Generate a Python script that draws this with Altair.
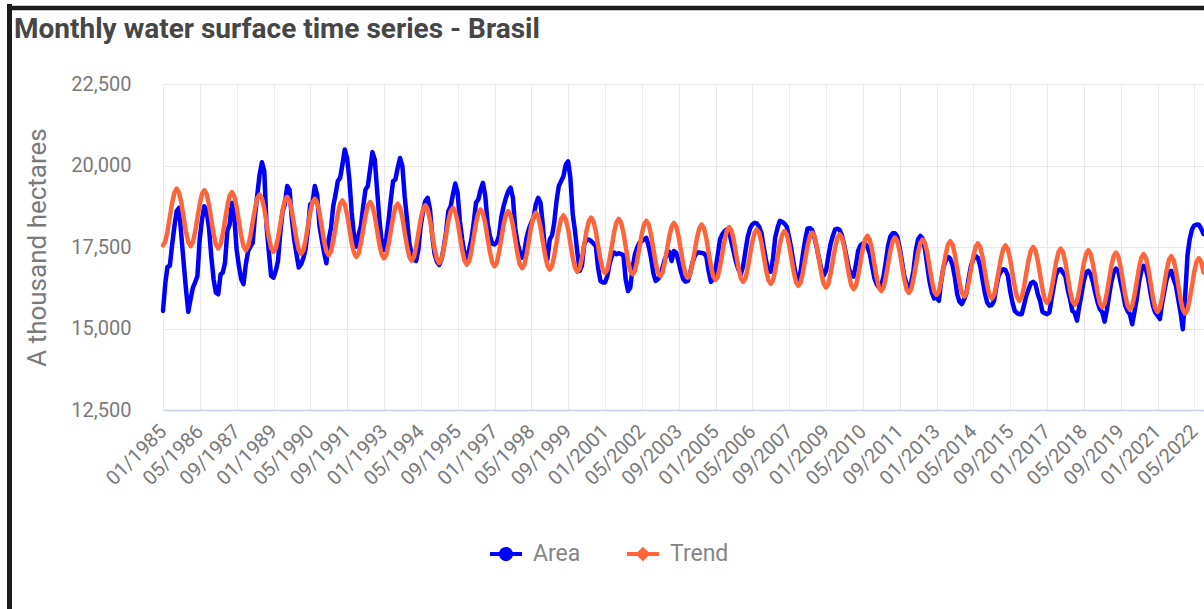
import altair as alt
import pandas as pd

TITLE = "Monthly water surface time series - Brasil"
Y_TITLE = "A thousand hectares"
SERIES = ["Area", "Trend"]
COLORS = ["#0000ff", "#ff653a"]

# Monthly water surface (thousand ha), Jan 1985 onwards, one row per year
AREA = [
    15540, 16400, 16890, 16920, 17550, 18140, 18600, 18700, 17840, 17020, 16200, 15510,
    15900, 16260, 16410, 16610, 17730, 18350, 18750, 18600, 18090, 17220, 16510, 16100,
    16050, 16660, 16710, 17020, 17990, 18190, 18860, 18450, 17430, 16920, 16510, 16360,
    16970, 17380, 17510, 17630, 18450, 19110, 19720, 20100, 19830, 18140, 17330, 16610,
    16560, 16770, 17070, 17940, 18600, 18810, 19370, 19260, 18350, 17730, 17280, 16870,
    16970, 17170, 17430, 18040, 18810, 18860, 19370, 19110, 18140, 17730, 17330, 17000,
    17730, 18090, 18750, 19110, 19520, 19620, 20030, 20490, 20230, 19570, 18550, 17840,
    17510, 17890, 18140, 18750, 19260, 19370, 19880, 20410, 20180, 19260, 18350, 17630,
    17410, 17790, 18300, 18960, 19520, 19570, 19930, 20230, 19980, 19060, 18350, 17630,
    17280, 17100, 17070, 17430, 18150, 18600, 18910, 19010, 18650, 17840, 17280, 17050,
    16950, 17120, 17480, 17940, 18600, 18750, 19110, 19450, 19160, 18300, 17730, 17280,
    17120, 17430, 17730, 18240, 18860, 18960, 19260, 19470, 19060, 18240, 17840, 17610,
    17580, 17650, 17840, 18420, 18750, 19010, 19210, 19320, 19010, 18090, 17630, 17350,
    17170, 17380, 17790, 18060, 18240, 18400, 18810, 19010, 18860, 18190, 17330, 17120,
    17730, 17860, 18240, 18910, 19370, 19520, 19670, 20030, 20130, 19620, 18500, 17990,
    17330, 16770, 16920, 17580, 17710, 17730, 17680, 17610, 17530, 16870, 16460, 16410,
    16410, 16610, 16970, 17220, 17330, 17280, 17310, 17280, 17250, 16510, 16150, 16260,
    16870, 17280, 17480, 17630, 17680, 17730, 17780, 17530, 17170, 16710, 16460, 16510,
    16610, 16870, 17120, 17280, 17350, 17070, 17380, 17320, 17050, 16750, 16510, 16440,
    16460, 16710, 17020, 17220, 17330, 17330, 17320, 17300, 17220, 16760, 16430, 16510,
    16820, 17280, 17730, 17890, 17990, 18040, 17960, 17630, 17330, 17020, 16800, 16660,
    16920, 17380, 17790, 18060, 18190, 18240, 18220, 18120, 17920, 17480, 17070, 16770,
    16740, 17170, 17790, 18090, 18300, 18270, 18220, 18120, 17790, 17430, 16970, 16610,
    16430, 16770, 17280, 17730, 18060, 18080, 18020, 17790, 17480, 17120, 16820, 16630,
    16770, 17220, 17580, 17840, 18040, 18060, 18020, 17840, 17530, 17170, 16820, 16660,
    16590, 16970, 17380, 17550, 17610, 17600, 17510, 17310, 16920, 16560, 16360, 16260,
    16310, 16610, 17020, 17530, 17820, 17920, 17920, 17820, 17480, 17070, 16610, 16390,
    16230, 16410, 16770, 17380, 17730, 17840, 17760, 17430, 16920, 16430, 16100, 15920,
    15950, 15850, 16410, 16870, 17070, 17200, 17140, 16940, 16560, 16050, 15820, 15750,
    15900, 16100, 16530, 16920, 17120, 17220, 17170, 16920, 16510, 16100, 15800, 15700,
    15720, 15850, 16260, 16610, 16740, 16820, 16800, 16630, 16150, 15800, 15540, 15470,
    15440, 15440, 15700, 16000, 16200, 16390, 16430, 16360, 16050, 15850, 15510, 15470,
    15440, 15490, 15900, 16310, 16660, 16800, 16820, 16710, 16590, 16200, 15900, 15540,
    15480, 15240, 15650, 16050, 16450, 16720, 16770, 16660, 16410, 16080, 15800, 15590,
    15500, 15210, 15550, 16000, 16430, 16720, 16840, 16770, 16410, 16100, 15700, 15540,
    15440, 15130, 15500, 15900, 16410, 16770, 16920, 16800, 16510, 16080, 15700, 15490,
    15390, 15290, 15750, 16150, 16510, 16710, 16770, 16510, 16310, 15900, 15490, 14980,
    16000, 17250, 17730, 18040, 18160, 18190, 18180, 18060, 17900,
]

# Seasonal trend component (thousand ha), same months
TREND = [
    17550, 17670, 17980, 18420, 18850, 19170, 19290, 19170, 18850, 18410, 17970, 17650,
    17530, 17650, 17960, 18390, 18810, 19130, 19240, 19120, 18800, 18350, 17910, 17580,
    17460, 17580, 17890, 18320, 18750, 19070, 19180, 19060, 18740, 18290, 17850, 17520,
    17400, 17520, 17830, 18260, 18680, 19000, 19110, 18990, 18670, 18230, 17790, 17470,
    17350, 17460, 17770, 18200, 18620, 18930, 19040, 18920, 18600, 18170, 17730, 17410,
    17290, 17400, 17710, 18140, 18560, 18870, 18980, 18860, 18550, 18120, 17680, 17370,
    17250, 17360, 17670, 18090, 18510, 18820, 18930, 18810, 18500, 18070, 17630, 17320,
    17200, 17310, 17620, 18040, 18460, 18770, 18880, 18760, 18450, 18020, 17580, 17270,
    17150, 17260, 17570, 17990, 18410, 18720, 18830, 18710, 18390, 17960, 17520, 17200,
    17080, 17190, 17500, 17930, 18350, 18660, 18780, 18660, 18330, 17890, 17450, 17130,
    17010, 17120, 17430, 17860, 18280, 18590, 18700, 18580, 18270, 17830, 17400, 17080,
    16960, 17070, 17380, 17810, 18230, 18540, 18650, 18530, 18220, 17780, 17350, 17030,
    16910, 17020, 17330, 17760, 18180, 18490, 18600, 18480, 18160, 17730, 17290, 16970,
    16850, 16960, 17280, 17700, 18130, 18440, 18550, 18430, 18120, 17680, 17250, 16930,
    16810, 16920, 17230, 17640, 18060, 18360, 18470, 18350, 18040, 17610, 17170, 16860,
    16740, 16850, 17160, 17570, 17990, 18290, 18400, 18290, 17980, 17550, 17130, 16810,
    16700, 16810, 17120, 17530, 17950, 18250, 18360, 18250, 17940, 17510, 17090, 16770,
    16660, 16770, 17070, 17480, 17890, 18190, 18300, 18190, 17880, 17460, 17030, 16720,
    16610, 16720, 17020, 17430, 17830, 18130, 18240, 18130, 17820, 17400, 16980, 16670,
    16560, 16670, 16970, 17380, 17780, 18080, 18190, 18080, 17770, 17340, 16920, 16600,
    16490, 16600, 16900, 17300, 17710, 18000, 18110, 18000, 17690, 17270, 16850, 16540,
    16430, 16540, 16830, 17240, 17640, 17930, 18040, 17930, 17620, 17210, 16790, 16480,
    16370, 16480, 16780, 17180, 17590, 17880, 17990, 17880, 17570, 17150, 16730, 16420,
    16310, 16420, 16720, 17130, 17530, 17830, 17940, 17830, 17520, 17100, 16680, 16370,
    16260, 16370, 16670, 17080, 17480, 17780, 17890, 17780, 17470, 17050, 16630, 16320,
    16210, 16320, 16620, 17030, 17430, 17730, 17840, 17730, 17420, 17000, 16570, 16260,
    16150, 16260, 16560, 16970, 17380, 17680, 17790, 17680, 17370, 16940, 16520, 16200,
    16090, 16200, 16500, 16910, 17320, 17620, 17730, 17620, 17310, 16880, 16460, 16140,
    16030, 16140, 16440, 16860, 17270, 17570, 17680, 17570, 17260, 16830, 16410, 16090,
    15980, 16090, 16390, 16800, 17200, 17500, 17610, 17500, 17190, 16770, 16340, 16030,
    15920, 16030, 16330, 16740, 17140, 17440, 17550, 17440, 17130, 16700, 16280, 15960,
    15850, 15960, 16260, 16680, 17090, 17390, 17500, 17390, 17070, 16650, 16220, 15900,
    15790, 15900, 16210, 16620, 17040, 17340, 17450, 17340, 17020, 16590, 16160, 15850,
    15730, 15840, 16150, 16570, 16980, 17290, 17400, 17280, 16960, 16530, 16090, 15770,
    15650, 15760, 16070, 16490, 16910, 17220, 17330, 17210, 16890, 16460, 16020, 15700,
    15580, 15690, 16010, 16430, 16860, 17170, 17280, 17160, 16840, 16400, 15950, 15630,
    15510, 15630, 15940, 16370, 16790, 17110, 17220, 17100, 16780, 16340, 15900, 15580,
    15460, 15570, 15890, 16310, 16740, 17050, 17160, 17040, 16720,
]

X_TICK_LABELS = [
    "01/1985", "05/1986", "09/1987", "01/1989", "05/1990", "09/1991", "01/1993",
    "05/1994", "09/1995", "01/1997", "05/1998", "09/1999", "01/2001", "05/2002",
    "09/2003", "01/2005", "05/2006", "09/2007", "01/2009", "05/2010", "09/2011",
    "01/2013", "05/2014", "09/2015", "01/2017", "05/2018", "09/2019", "01/2021",
    "05/2022",
]
Y_TICKS = [12500, 15000, 17500, 20000, 22500]

TITLE_GRAY = "#464646"
LABEL_GRAY = "#7a7a7a"
LEGEND_GRAY = "#858585"
GRID = "#e8e9ee"
FONT = "Roboto"

# legend glyphs: a short line with a circle / diamond in the middle
AREA_SYMBOL = "M-1,-0.13H1V0.13H-1Z M-0.44,0A0.44,0.44 0 1,1 0.44,0A0.44,0.44 0 1,1 -0.44,0Z"
TREND_SYMBOL = "M-1,-0.13H1V0.13H-1Z M0,-0.46L0.47,0L0,0.46L-0.47,0Z"


def month_starts(count):
    return pd.date_range("1985-01-01", periods=count, freq="MS").strftime("%Y-%m-%d").tolist()


def to_ms(day):
    return int(pd.Timestamp(day, tz="UTC").value // 10**6)


frames = [
    pd.DataFrame({"date": month_starts(len(vals)), "value": vals, "series": name})
    for name, vals in zip(SERIES, [AREA, TREND])
]
df = pd.concat(frames, ignore_index=True)

tick_ms = [to_ms(f"{lab[3:]}-{lab[:2]}-01") for lab in X_TICK_LABELS]
x_domain = [to_ms("1985-01-01"), to_ms("2022-09-07")]

x_enc = alt.X(
    "date:T",
    title=None,
    scale=alt.Scale(type="utc", domain=x_domain),
    axis=alt.Axis(
        values=tick_ms,
        labelExpr="utcFormat(datum.value, '%m/%Y')",
        labelAngle=-45,
        labelAlign="right",
        labelBaseline="middle",
        labelPadding=18,
        labelFontSize=20,
        labelFont=FONT,
        labelColor=LABEL_GRAY,
        labelOverlap=False,
        labelFlush=False,
        labelBound=False,
        ticks=False,
        tickSize=0,
        domainColor="#c8d0df",
        domainWidth=1.5,
        gridColor=GRID,
        gridWidth=1,
    ),
)
y_enc = alt.Y(
    "value:Q",
    title=Y_TITLE,
    scale=alt.Scale(domain=[12500, 22500], nice=False, zero=False),
    axis=alt.Axis(
        values=Y_TICKS,
        format=",d",
        domain=False,
        ticks=False,
        tickSize=0,
        labelPadding=32,
        labelFontSize=20,
        labelFont=FONT,
        labelColor=LABEL_GRAY,
        gridColor=GRID,
        gridWidth=1,
        titleFont=FONT,
        titleFontSize=26,
        titleFontWeight="normal",
        titleColor=LABEL_GRAY,
        titleAngle=-90,
        titleBaseline="middle",
        titleX=-126,
        titleY=163,
    ),
)

color_scale = alt.Scale(domain=SERIES, range=COLORS)

legend = alt.Legend(
    title=None,
    orient="none",
    legendX=327,
    legendY=454,
    direction="horizontal",
    symbolSize=1024,
    symbolStrokeWidth=0,
    symbolOpacity=1,
    labelFontSize=23,
    labelFont=FONT,
    labelColor=LEGEND_GRAY,
    labelOffset=11,
    columnPadding=46,
    padding=0,
)

base = alt.Chart(df)

# carries the legend only: no rows pass the filter, the scale domains give the entries
legend_layer = base.transform_filter("false").mark_point(filled=True).encode(
    x=x_enc,
    y=y_enc,
    color=alt.Color("series:N", scale=color_scale, legend=legend),
    shape=alt.Shape(
        "series:N",
        scale=alt.Scale(domain=SERIES, range=[AREA_SYMBOL, TREND_SYMBOL]),
        legend=legend,
    ),
)

area_line = base.transform_filter("datum.series == 'Area'").mark_line(
    strokeWidth=4.5, strokeJoin="round", strokeCap="round"
).encode(x=x_enc, y=y_enc, color=alt.Color("series:N", scale=color_scale, legend=None))

trend_line = base.transform_filter("datum.series == 'Trend'").mark_line(
    strokeWidth=4.5, strokeJoin="round", strokeCap="round"
).encode(x=x_enc, y=y_enc, color=alt.Color("series:N", scale=color_scale, legend=None))

# dark card border along the left and top edges
border_src = pd.DataFrame({"k": [0]})
border_left = alt.Chart(border_src).mark_rule(color="#1c1c1c", strokeWidth=5).encode(
    x=alt.value(-153.5), y=alt.value(-80), y2=alt.value(530)
)
border_top = alt.Chart(border_src).mark_rule(color="#1c1c1c", strokeWidth=4.5).encode(
    x=alt.value(-156), x2=alt.value(1050), y=alt.value(-76)
)

chart = (
    alt.layer(legend_layer, area_line, trend_line, border_left, border_top)
    .properties(
        width=1041,
        height=326,
        title=alt.TitleParams(
            TITLE,
            anchor="start",
            frame="group",
            dx=-149,
            dy=70,
            offset=28,
            fontSize=28,
            fontWeight="bold",
            font=FONT,
            color=TITLE_GRAY,
        ),
        padding={"left": 163, "top": 84, "right": 0, "bottom": 199},
        autosize=alt.AutoSizeParams(type="none"),
        background="white",
    )
    .configure_view(stroke=None)
)

chart.save("out.html", embed_options={"renderer": "svg", "actions": False})
